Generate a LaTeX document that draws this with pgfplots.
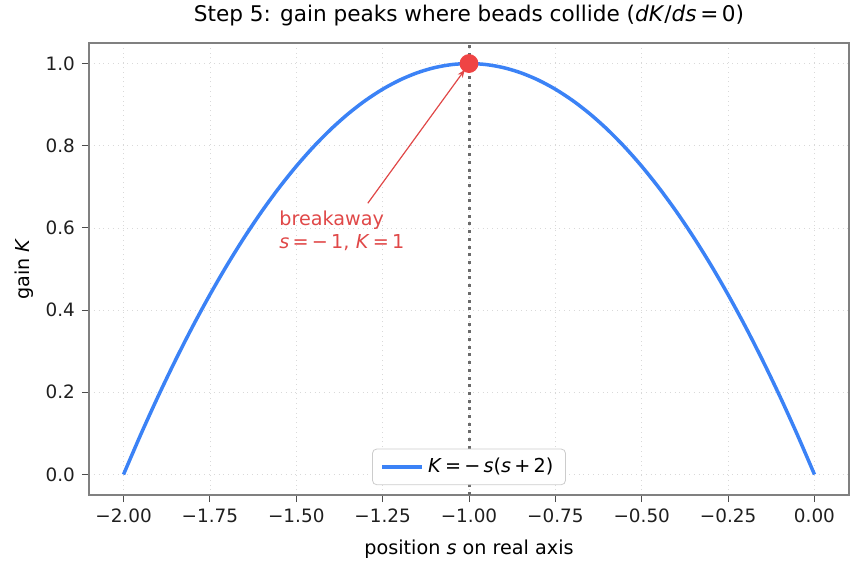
\documentclass[border=0pt]{standalone}
\usepackage{fontspec}
\setmainfont{DejaVu Sans}
\usepackage{pgfplots}
\pgfplotsset{compat=1.18}
\usetikzlibrary{arrows.meta,calc}
\definecolor{lineblue}{HTML}{3B82F6}
\definecolor{markred}{HTML}{EF4444}
\definecolor{textred}{HTML}{E04848}
\definecolor{framegray}{HTML}{808080}
\begin{document}
\begin{tikzpicture}
\begin{axis}[
  name=main,
  scale only axis,
  width=380pt, height=226pt,
  xmin=-2.1, xmax=0.1, ymin=-0.05, ymax=1.05,
  xtick={-2,-1.75,-1.5,-1.25,-1,-0.75,-0.5,-0.25,0},
  xticklabels={−2.00,−1.75,−1.50,−1.25,−1.00,−0.75,−0.50,−0.25,0.00},
  ytick={0,0.2,0.4,0.6,0.8,1.0},
  yticklabels={0.0,0.2,0.4,0.6,0.8,1.0},
  tick label style={font=\fontsize{9.2}{11}\selectfont, text=black!88},
  label style={font=\fontsize{9.6}{11}\selectfont},
  xlabel style={yshift=-1.5pt},
  ylabel style={yshift=-1pt},
  title style={font=\fontsize{10.8}{13}\selectfont, yshift=-1pt},
  title={Step 5: gain peaks where beads collide (\textit{dK}/\textit{ds}\,=\,0)},
  xlabel={position \textit{s} on real axis},
  ylabel={gain \textit{K}},
  axis line style={framegray, line width=0.6pt},
  tick align=outside,
  xtick pos=bottom, ytick pos=left,
  major tick length=3.5pt,
  every tick/.style={black!70, line width=0.5pt},
  grid=major,
  major grid style={dotted, black!15, line width=0.4pt},
  legend style={at={(0.5,0.022)}, anchor=south, draw=black!20, rounded corners=2pt,
    font=\fontsize{9.6}{11}\selectfont, inner xsep=4pt, inner ysep=2.5pt},
  legend image code/.code={\draw[#1] (0pt,0pt) -- (20pt,0pt);},
  legend cell align=left,
  clip=false,
]
\addplot[lineblue, line width=1.75pt, smooth] coordinates {
(-2.00,0.0000) (-1.95,0.0975) (-1.90,0.1900) (-1.85,0.2775) (-1.80,0.3600)
(-1.75,0.4375) (-1.70,0.5100) (-1.65,0.5775) (-1.60,0.6400) (-1.55,0.6975)
(-1.50,0.7500) (-1.45,0.7975) (-1.40,0.8400) (-1.35,0.8775) (-1.30,0.9100)
(-1.25,0.9375) (-1.20,0.9600) (-1.15,0.9775) (-1.10,0.9900) (-1.05,0.9975)
(-1.00,1.0000) (-0.95,0.9975) (-0.90,0.9900) (-0.85,0.9775) (-0.80,0.9600)
(-0.75,0.9375) (-0.70,0.9100) (-0.65,0.8775) (-0.60,0.8400) (-0.55,0.7975)
(-0.50,0.7500) (-0.45,0.6975) (-0.40,0.6400) (-0.35,0.5775) (-0.30,0.5100)
(-0.25,0.4375) (-0.20,0.3600) (-0.15,0.2775) (-0.10,0.1900) (-0.05,0.0975)
(0.00,0.0000)};
\addlegendentry{\textit{K}\,=\,−\,\textit{s}(\textit{s}\,+\,2)}
\addplot[only marks, mark=*, mark size=4.5pt, color=markred, forget plot] coordinates {(-1,1)};
\addplot[black!58, line width=1.5pt, dash pattern=on 1.5pt off 2.35pt, forget plot] coordinates {(-1,-0.05) (-1,1.05)};
\draw[-{Stealth[length=4pt,width=3pt]}, textred, line width=0.6pt] (axis cs:-1.293,0.660) -- (axis cs:-1.012,0.985);
\node[anchor=north west, align=left, text=textred, font=\fontsize{9.6}{11.5}\selectfont, inner sep=0pt] at (axis cs:-1.55,0.642) {breakaway\\\textit{s}\,=\,−\,1,\,\,\textit{K}\,=\,1};
\end{axis}
\pgfresetboundingbox
\path ($(main.south west)+(-44.5pt,-39pt)$) rectangle ($(main.north east)+(6.5pt,21.5pt)$);
\end{tikzpicture}
\end{document}
